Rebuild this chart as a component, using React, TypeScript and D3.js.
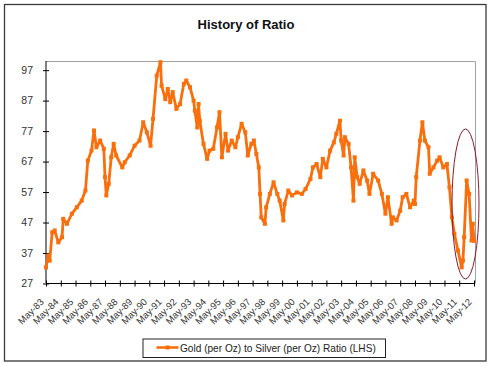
import { useEffect, useRef } from 'react';
import * as d3 from 'd3';

// readings (month, ratio)
const months = [
  '1983-05', '1983-07', '1983-08', '1983-10', '1983-12', '1984-03', '1984-06', '1984-07', '1984-10', '1985-02',
  '1985-06', '1985-10', '1986-01', '1986-03', '1986-06', '1986-08', '1986-10', '1987-01', '1987-04', '1987-05',
  '1987-06', '1987-08', '1987-10', '1987-12', '1988-02', '1988-07', '1988-09', '1989-01', '1989-05', '1989-09',
  '1989-12', '1990-03', '1990-06', '1990-08', '1990-11', '1991-02', '1991-03', '1991-06', '1991-08', '1991-10',
  '1991-12', '1992-03', '1992-06', '1992-09', '1992-11', '1993-02', '1993-05', '1993-06', '1993-08', '1993-09',
  '1993-10', '1994-01', '1994-04', '1994-06', '1994-09', '1994-12', '1995-02', '1995-04', '1995-07', '1995-09',
  '1995-12', '1996-03', '1996-05', '1996-08', '1996-11', '1997-01', '1997-04', '1997-06', '1997-08', '1997-10',
  '1997-11', '1997-12', '1998-03', '1998-04', '1998-07', '1998-10', '1999-01', '1999-03', '1999-06', '1999-07',
  '1999-10', '2000-01', '2000-05', '2000-09', '2000-12', '2001-04', '2001-06', '2001-09', '2001-12', '2002-02',
  '2002-05', '2002-08', '2002-11', '2003-01', '2003-04', '2003-05', '2003-07', '2003-08', '2003-11', '2004-01',
  '2004-03', '2004-04', '2004-06', '2004-08', '2004-11', '2005-02', '2005-04', '2005-07', '2005-11', '2006-02',
  '2006-05', '2006-07', '2006-10', '2006-11', '2007-02', '2007-05', '2007-07', '2007-10', '2008-01', '2008-04',
  '2008-05', '2008-06', '2008-09', '2008-11', '2009-01', '2009-04', '2009-05', '2009-08', '2009-11', '2010-01',
  '2010-04', '2010-07', '2010-09', '2010-11', '2011-01', '2011-04', '2011-07', '2011-08', '2011-09', '2011-11',
  '2012-01', '2012-03', '2012-04', '2012-05',
];

const ratio = [
  32.3, 36.2, 34.5, 43.8, 44.4, 40.5, 42.2, 48.2, 46.6, 49.9,
  52.0, 54.2, 57.5, 67.3, 70.6, 77.2, 71.7, 73.9, 71.2, 61.9,
  55.9, 59.7, 68.4, 72.8, 69.0, 65.1, 66.8, 69.0, 72.2, 73.9,
  79.9, 76.6, 72.2, 81.0, 95.2, 99.6, 91.9, 87.5, 90.8, 86.5,
  89.8, 84.3, 85.9, 92.5, 93.6, 91.4, 87.0, 83.7, 78.2, 85.9,
  80.4, 72.8, 67.9, 70.6, 71.2, 78.2, 83.2, 68.4, 76.1, 70.6,
  73.9, 71.7, 75.0, 79.4, 76.6, 69.0, 72.8, 73.9, 69.5, 65.1,
  56.4, 48.7, 46.6, 52.0, 56.4, 60.2, 56.4, 54.2, 47.7, 53.1,
  57.5, 55.9, 56.9, 56.4, 58.0, 61.3, 65.1, 66.2, 61.9, 67.9,
  65.1, 70.6, 73.3, 76.1, 80.4, 73.9, 69.0, 75.0, 72.8, 65.1,
  54.2, 68.4, 61.9, 59.7, 64.1, 60.8, 56.4, 63.0, 60.8, 56.4,
  49.9, 55.3, 46.6, 48.7, 47.7, 50.9, 55.3, 56.4, 52.0, 54.2,
  53.1, 61.9, 73.9, 79.9, 73.9, 71.7, 63.0, 65.1, 67.3, 68.4,
  65.1, 66.2, 58.6, 48.7, 43.3, 37.8, 32.3, 34.5, 42.2, 60.8,
  56.4, 41.1, 46.6, 41.0,
];

const yTicks = [27, 37, 47, 57, 67, 77, 87, 97];
const tickYears = d3.range(1983, 2013);

const title = 'History of Ratio';
const seriesName = 'Gold (per Oz) to Silver (per Oz) Ratio (LHS)';

const ORANGE = '#F86F0C';
const FONT = 'Arial, "Liberation Sans", sans-serif';

export default function App() {
  const ref = useRef<SVGSVGElement>(null);

  useEffect(() => {
    if (!ref.current) return;
    const svg = d3.select(ref.current);
    svg.selectAll('*').remove();

    const W = 490, H = 366;
    const left = 46, right = 474, top = 61, bottom = 283.5;
    const parse = d3.timeParse('%Y-%m');
    const data = months.map((m, i) => ({ date: parse(m) as Date, value: ratio[i] }));

    svg.append('rect').attr('width', W).attr('height', H).attr('fill', '#fff');
    // outer frame
    svg.append('rect')
      .attr('x', 4.5).attr('y', 4.5).attr('width', 481.5).attr('height', 356.5)
      .attr('fill', 'none').attr('stroke', '#3a3a3a').attr('stroke-width', 1.3);

    svg.append('text')
      .attr('x', 246).attr('y', 28.5)
      .attr('text-anchor', 'middle')
      .attr('font-family', FONT).attr('font-size', 13).attr('font-weight', 'bold')
      .attr('fill', '#111')
      .text(title);

    const x = d3.scaleTime()
      .domain([parse('1983-05') as Date, parse('2012-05') as Date])
      .range([left, right]);
    const y = d3.scaleLinear().domain([27, 100]).range([bottom, top]);

    // plot area border (grey, top and right)
    svg.append('path')
      .attr('d', `M${left},${top + 0.5}H${right + 1.5}V${bottom}`)
      .attr('fill', 'none').attr('stroke', '#a0a0a0').attr('stroke-width', 1);

    // y axis
    const yAxis = svg.append('g').attr('transform', `translate(${left},0)`)
      .call(d3.axisLeft(y).tickValues(yTicks).tickSize(3).tickSizeOuter(0).tickPadding(10));
    yAxis.select('.domain').attr('stroke', '#000').attr('d', `M0,${top}V${bottom}`);
    yAxis.selectAll('.tick line').attr('x1', 3).attr('x2', -3).attr('stroke', '#000');
    yAxis.selectAll('.tick text')
      .attr('font-family', FONT).attr('font-size', 10.5).attr('fill', '#333');

    // x axis
    const tickDates = tickYears.map(yr => parse(`${yr}-05`) as Date);
    const xAxis = svg.append('g').attr('transform', `translate(0,${bottom})`)
      .call(d3.axisBottom(x).tickValues(tickDates).tickSize(3).tickSizeOuter(0)
        .tickFormat(d => d3.timeFormat('May-%y')(d as Date)));
    xAxis.select('.domain').attr('stroke', '#000').attr('d', `M${left},0H${right}`);
    xAxis.selectAll('.tick line').attr('y1', -3).attr('y2', 3).attr('stroke', '#000');
    xAxis.selectAll('.tick text')
      .attr('font-family', FONT).attr('font-size', 9.5).attr('fill', '#333')
      .attr('text-anchor', 'end')
      .attr('dy', null).attr('y', 0)
      .attr('transform', 'translate(-2,19) rotate(-45)');

    // series
    const line = d3.line<{ date: Date; value: number }>()
      .x(d => x(d.date))
      .y(d => y(d.value));
    svg.append('path')
      .datum(data)
      .attr('fill', 'none')
      .attr('stroke', ORANGE)
      .attr('stroke-width', 2.8)
      .attr('stroke-linejoin', 'round')
      .attr('d', line);
    svg.append('g').selectAll('rect')
      .data(data)
      .enter()
      .append('rect')
      .attr('x', d => x(d.date) - 2)
      .attr('y', d => y(d.value) - 2)
      .attr('width', 4).attr('height', 4)
      .attr('fill', ORANGE);

    // highlight ellipse
    svg.append('ellipse')
      .attr('cx', 465.5).attr('cy', 204).attr('rx', 13.5).attr('ry', 75)
      .attr('fill', 'none').attr('stroke', '#8E1B2E').attr('stroke-width', 1);

    // legend
    const lg = svg.append('g');
    lg.append('rect')
      .attr('x', 143).attr('y', 339).attr('width', 242.5).attr('height', 18.5)
      .attr('fill', '#fff').attr('stroke', '#222').attr('stroke-width', 1);
    lg.append('line')
      .attr('x1', 156.5).attr('x2', 178.5).attr('y1', 347.5).attr('y2', 347.5)
      .attr('stroke', ORANGE).attr('stroke-width', 2.6);
    lg.append('rect')
      .attr('x', 165.5).attr('y', 345.5).attr('width', 4).attr('height', 4)
      .attr('fill', ORANGE);
    lg.append('text')
      .attr('x', 180).attr('y', 351.5)
      .attr('font-family', FONT).attr('font-size', 10.1).attr('fill', '#222')
      .text(seriesName);
  }, []);

  return (
    <svg ref={ref} width={490} height={366}
      style={{ position: 'absolute', left: 0, top: 0, display: 'block' }} />
  );
}
